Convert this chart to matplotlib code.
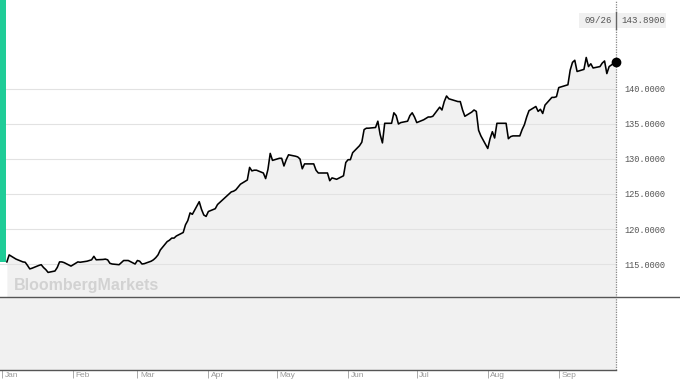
import matplotlib
matplotlib.use("Agg")
import matplotlib.pyplot as plt
import matplotlib.dates as mdates
from matplotlib.lines import Line2D
from matplotlib.patches import Rectangle
from matplotlib.transforms import ScaledTranslation
import pandas as pd

# daily closes, one list per month (business days 2022)
jan_vals = [115.3, 116.3, 116.1, 115.9, 115.7, 115.3, 115.25, 114.8, 114.3, 114.4,
            114.8, 114.9, 114.5, 114.2, 113.8, 114.0, 114.5, 115.3, 115.3, 115.2, 114.7]
feb_vals = [114.9, 115.1, 115.3, 115.25, 115.4, 115.5, 115.6, 116.1, 115.6, 115.65,
            115.7, 115.6, 115.1, 115.0, 114.9, 115.2, 115.5, 115.5, 115.5, 115.0]
mar_vals = [115.5, 115.4, 115.0, 115.05, 115.4, 115.6, 115.9, 116.3, 117.0, 118.2,
            118.4, 118.7, 118.7, 119.0, 119.5, 120.6, 121.2, 122.3, 122.1, 123.9,
            122.8, 122.0, 121.8]
apr_vals = [122.5, 122.9, 123.5, 123.8, 124.1, 124.4, 125.3, 125.4, 125.6, 126.0,
            126.4, 127.0, 128.8, 128.3, 128.4, 128.4, 128.0, 127.2, 128.5, 130.8, 129.8]
may_vals = [130.1, 130.1, 129.0, 129.9, 130.6, 130.4, 130.3, 130.0, 128.6, 129.3,
            129.3, 129.3, 128.4, 128.0, 128.0, 128.0, 126.9, 127.3, 127.2, 127.1,
            127.6, 129.5]
jun_vals = [129.9, 129.9, 130.9, 131.9, 132.4, 134.2, 134.4, 134.4, 134.5, 135.4,
            133.5, 132.3, 135.1, 135.1, 136.6, 136.2, 135.0, 135.2, 135.4, 136.2,
            136.6, 136.0]
jul_vals = [135.2, 135.6, 135.8, 136.0, 136.0, 136.1, 137.4, 137.0, 138.2, 139.0,
            138.6, 138.3, 138.2, 138.2, 137.0, 136.1, 136.7, 137.0, 136.8, 134.1, 133.3]
aug_vals = [131.5, 132.9, 133.9, 133.0, 135.1, 135.1, 135.1, 132.9, 133.2, 133.3,
            133.3, 134.2, 134.9, 136.0, 136.9, 137.5, 136.8, 137.1, 136.5, 137.7,
            138.8, 138.8, 138.9]
sep_vals = [140.2, 140.3, 140.6, 142.7, 143.8, 144.1, 142.5, 142.8, 144.5, 143.2,
            143.6, 143.0, 143.2, 143.7, 144.0, 142.2, 143.2, 143.89]

values = (jan_vals + feb_vals + mar_vals + apr_vals + may_vals + jun_vals
          + jul_vals + aug_vals + sep_vals)
dates = pd.bdate_range("2022-01-03", "2022-09-26")

month_labels = ["Jan", "Feb", "Mar", "Apr", "May", "Jun", "Jul", "Aug", "Sep"]
month_starts = pd.date_range("2022-01-01", periods=9, freq="MS")
y_ticks = [115, 120, 125, 130, 135, 140]
last_label = "09/26"
last_value = "143.8900"

W, H = 680, 387
fig = plt.figure(figsize=(W / 100, H / 100), dpi=100)
ax = fig.add_axes([0, 17 / H, 616 / W, 370 / H])

y_lo, y_hi = 99.86, 152.71
x_nums = mdates.date2num(dates)
x_lo = mdates.date2num(pd.Timestamp("2022-01-01")) - 1.0
ax.set_xlim(x_lo, x_nums[-1])
ax.set_ylim(y_lo, y_hi)

fill_col = "#f1f1f1"
split = 110.29
ax.axhspan(y_lo, split, color=fill_col, zorder=0.4, lw=0)
ax.fill_between(x_nums, values, y_lo, color=fill_col, zorder=0.5, lw=0)
for t in y_ticks:
    ax.axhline(t, color="#e2e2e2", lw=0.8, zorder=1)
ax.plot(x_nums, values, color="black", lw=1.15, zorder=3)
ax.plot(x_nums[-1], values[-1], "o", color="black", ms=6, zorder=4, clip_on=False)

# green start bar
ax.add_patch(Rectangle((0, values[0]), 6 / 616, y_hi - values[0], color="#1fcc97",
                       transform=ax.get_yaxis_transform(), zorder=2, lw=0))

# dotted crosshair at last point
ax.axvline(x_nums[-1], color="#888888", ls=(0, (1, 1)), lw=0.9, zorder=2, clip_on=False)

ax.text(14 / 616, 111.3, "BloombergMarkets", fontsize=11.5, fontweight="bold",
        color="#d2d2d2", family="Liberation Sans", transform=ax.get_yaxis_transform(),
        zorder=2)

for s in ["top", "left", "right"]:
    ax.spines[s].set_visible(False)
ax.spines["bottom"].set_color("#555555")
ax.spines["bottom"].set_linewidth(1.0)

ax.yaxis.tick_right()
ax.set_yticks(y_ticks)
ax.set_yticklabels([f"{t:.4f}" for t in y_ticks], family="Liberation Mono")
ax.tick_params(axis="y", length=0, pad=6, labelsize=6.2, labelcolor="#555555")

ax.set_xticks(mdates.date2num(month_starts))
ax.set_xticklabels([])
ax.tick_params(axis="x", length=5.8, width=0.7, color="#aaaaaa", direction="out")
off = ScaledTranslation(2.5 / 100, -2 / 100, fig.dpi_scale_trans)
for d, lab in zip(month_starts, month_labels):
    ax.text(mdates.date2num(d), 0, lab, transform=ax.get_xaxis_transform() + off,
            ha="left", va="top", fontsize=6, color="#999999", family="Liberation Sans")

# full-width divider line
fig.add_artist(Line2D([0, 1], [(H - 297) / H] * 2, color="#555555", lw=1.0,
                      transform=fig.transFigure))

# header box with last date / value
fig.add_artist(Rectangle((579 / W, (H - 28) / H), 87 / W, 15 / H, color="#f0f0f0",
                         transform=fig.transFigure, lw=0, zorder=5))
fig.add_artist(Line2D([616 / W] * 2, [(H - 12) / H, (H - 29) / H], color="#666666",
                      lw=1.0, transform=fig.transFigure, zorder=6))
fig.text(612 / W, (H - 20.5) / H, last_label, ha="right", va="center", fontsize=6.6,
         color="#555555", family="Liberation Mono", zorder=7)
fig.text(621 / W, (H - 20.5) / H, last_value, ha="left", va="center", fontsize=6.6,
         color="#555555", family="Liberation Mono", zorder=7)

fig.savefig("out.png", dpi=100)
